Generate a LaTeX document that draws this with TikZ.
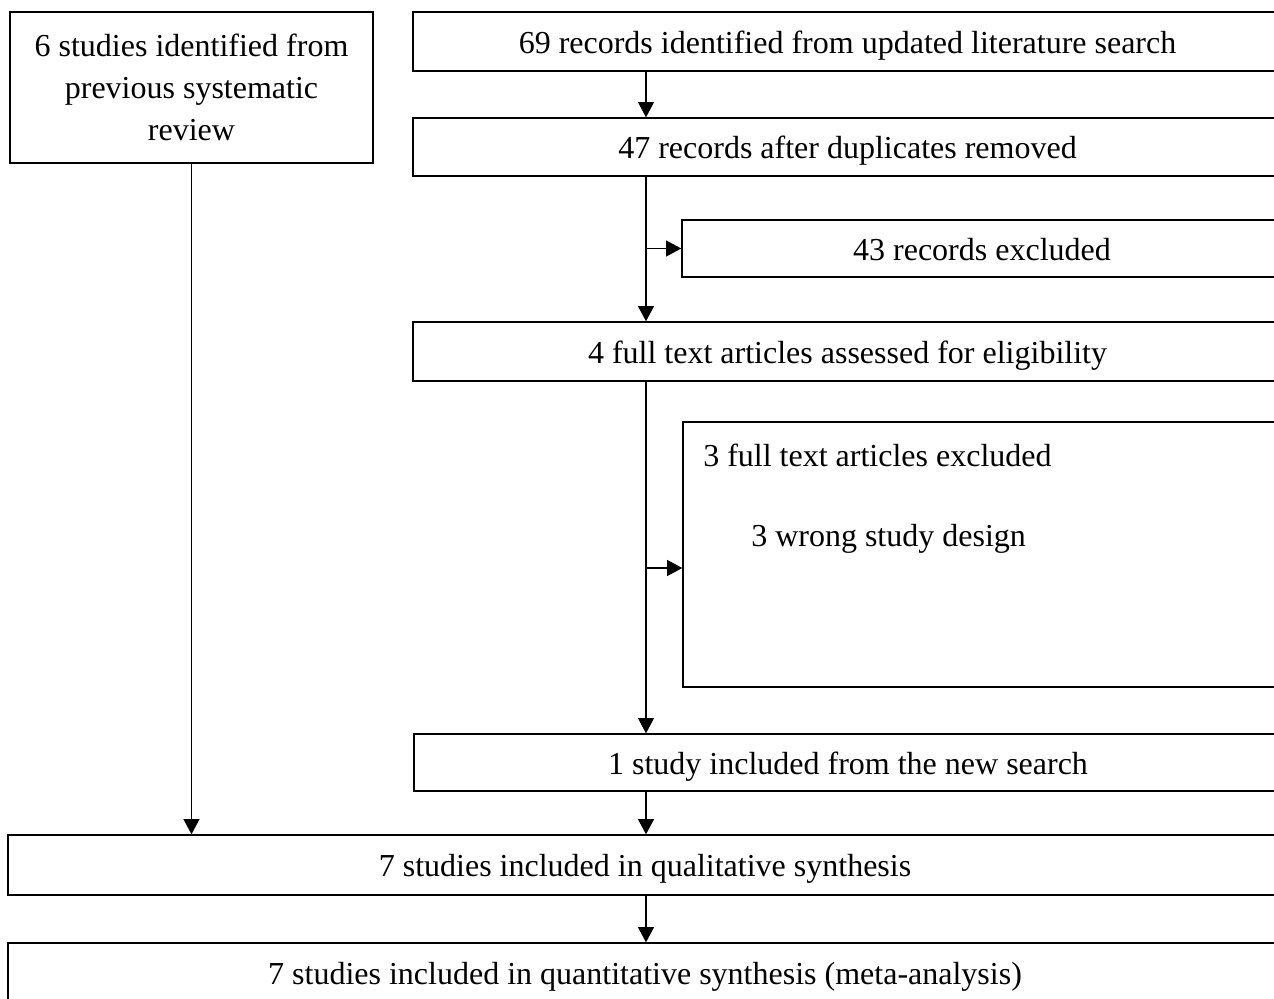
\documentclass[tikz,border=0pt]{standalone}
\usepackage{fontspec}
\setmainfont{Liberation Serif}
\usetikzlibrary{arrows.meta}
\begin{document}
\begin{tikzpicture}[x=0.75pt,y=-0.75pt,
  box/.style={draw, line width=1pt, inner sep=0pt, align=center, font=\fontsize{24}{31.5}\selectfont},
  one/.style={text height=20pt, text depth=2.6pt},
  arr/.style={line width=1pt, -{Triangle[length=11.5pt,width=12pt]}},
  lab/.style={inner sep=0pt, anchor=west, font=\fontsize{24}{31.5}\selectfont}]
\useasboundingbox (0,0) rectangle (1274,999);
\clip (0,0) rectangle (1274,999);
\node[box, minimum width=272.25pt, minimum height=113.25pt] (A) at (191.5,87.5) {6 studies identified from\\previous systematic\\review};
\node[box, one, minimum width=651.75pt, minimum height=44.25pt] (B) at (847.5,41.5) {69 records identified from updated literature search};
\node[box, one, minimum width=651.75pt, minimum height=43.5pt] (C) at (847.5,147) {47 records after duplicates removed};
\node[box, one, minimum width=450pt, minimum height=42.75pt] (D) at (982,248.5) {43 records excluded};
\node[box, one, minimum width=651.75pt, minimum height=44.25pt] (E) at (847.5,351.5) {4 full text articles assessed for eligibility};
\node[box, minimum width=449.25pt, minimum height=198.75pt] (F) at (982.5,554.5) {};
\node[lab] (F1) at (703,455) {3 full text articles excluded};
\node[lab] (F2) at (751,539) {3 wrong study design};
\node[box, one, minimum width=651pt, minimum height=42.75pt] (G) at (848,762.5) {1 study included from the new search};
\node[box, one, minimum width=955.5pt, minimum height=45pt] (H) at (645,865) {7 studies included in qualitative synthesis};
\node[box, one, minimum width=955.5pt, minimum height=45pt] (I) at (645,973) {7 studies included in quantitative synthesis (meta-analysis)};
\coordinate (mx) at (646,0);
\coordinate (fy) at (0,568);
\draw[arr] (B.south -| mx) -- (C.north -| mx);
\draw[arr] (C.south -| mx) -- (E.north -| mx);
\draw[arr] (mx |- D.west) -- (D.west);
\draw[arr] (E.south -| mx) -- (G.north -| mx);
\draw[arr] (mx |- fy) -- (F.west |- fy);
\draw[arr] (G.south -| mx) -- (H.north -| mx);
\draw[arr] (H.south -| mx) -- (I.north -| mx);
\draw[arr] (A.south) -- (A.south |- H.north);
\end{tikzpicture}
\end{document}
